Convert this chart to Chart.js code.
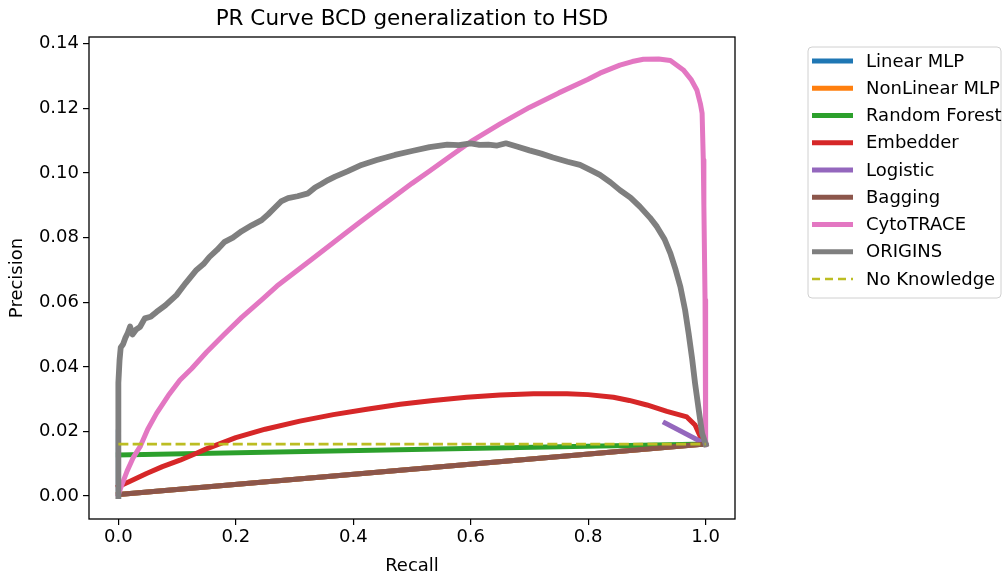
<!DOCTYPE html>
<html><head><meta charset="utf-8">
<script src="https://cdn.jsdelivr.net/npm/chart.js@4/dist/chart.umd.min.js"></script>
<style>html,body{margin:0;padding:0;background:#fff;overflow:hidden;}</style>
</head><body>
<canvas id="c" width="1004" height="577" style="display:block;width:1004px;height:577px"></canvas>
<script>
// ---------- data ----------
const chartTitle = "PR Curve BCD generalization to HSD";
const xAxisTitle = "Recall";
const yAxisTitle = "Precision";
const xTicks = [0.0, 0.2, 0.4, 0.6, 0.8, 1.0];
const yTicks = [0.00, 0.02, 0.04, 0.06, 0.08, 0.10, 0.12, 0.14];
const seriesNames = ["Linear MLP", "NonLinear MLP", "Random Forest", "Embedder", "Logistic", "Bagging", "CytoTRACE", "ORIGINS", "No Knowledge"];

const linearMlpRecall    = [0, 0, 1];
const linearMlpPrecision = [0.0198, 0.0005, 0.0161];
const nonLinearMlpRecall    = [0, 1];
const nonLinearMlpPrecision = [0.0005, 0.0161];
const randomForestRecall    = [0, 1];
const randomForestPrecision = [0.0127, 0.0161];
const embedderRecall    = [0, 0.02, 0.048, 0.075, 0.105, 0.13, 0.15, 0.2, 0.25, 0.309, 0.366, 0.423, 0.48, 0.536, 0.593, 0.65, 0.707, 0.764, 0.8, 0.843, 0.87, 0.9, 0.934, 0.968, 0.982, 0.991, 1.0];
const embedderPrecision = [0.0029, 0.0046, 0.0070, 0.0091, 0.0111, 0.0130, 0.0146, 0.0181, 0.0207, 0.0232, 0.0252, 0.0269, 0.0284, 0.0296, 0.0306, 0.0313, 0.0317, 0.0317, 0.0314, 0.0306, 0.0296, 0.0282, 0.0262, 0.0245, 0.0220, 0.0184, 0.0161];
const logisticRecall    = [0.931, 1.0];
const logisticPrecision = [0.0226, 0.0161];
const baggingRecall    = [0, 1];
const baggingPrecision = [0.0005, 0.0161];
const cytotraceRecall    = [0, 0.006, 0.015, 0.025, 0.037, 0.05, 0.065, 0.085, 0.105, 0.125, 0.15, 0.18, 0.21, 0.244, 0.27, 0.3, 0.33, 0.357, 0.385, 0.41, 0.44, 0.471, 0.5, 0.53, 0.565, 0.6, 0.65, 0.7, 0.75, 0.8, 0.82, 0.854, 0.875, 0.894, 0.92, 0.94, 0.962, 0.975, 0.985, 0.991, 0.994, 0.996, 0.997, 0.999, 1.0];
const cytotracePrecision = [0.0005, 0.0035, 0.0078, 0.0118, 0.0153, 0.0207, 0.0256, 0.0311, 0.0359, 0.0395, 0.0445, 0.0500, 0.0553, 0.0607, 0.0650, 0.0692, 0.0734, 0.0772, 0.0811, 0.0846, 0.0887, 0.0929, 0.0968, 0.1006, 0.1052, 0.1097, 0.1152, 0.1203, 0.1248, 0.1290, 0.1309, 0.1334, 0.1345, 0.1352, 0.1353, 0.1348, 0.1319, 0.1290, 0.1257, 0.1215, 0.1185, 0.1040, 0.0900, 0.0607, 0.0161];
const originsRecall    = [0, 0, 0, 0.002, 0.004, 0.008, 0.012, 0.016, 0.02, 0.024, 0.03, 0.037, 0.045, 0.055, 0.065, 0.08, 0.099, 0.115, 0.133, 0.145, 0.155, 0.168, 0.181, 0.195, 0.21, 0.227, 0.244, 0.255, 0.265, 0.277, 0.289, 0.305, 0.323, 0.335, 0.345, 0.357, 0.369, 0.39, 0.414, 0.44, 0.471, 0.5, 0.53, 0.56, 0.58, 0.6, 0.615, 0.63, 0.645, 0.66, 0.68, 0.7, 0.72, 0.74, 0.765, 0.786, 0.805, 0.82, 0.838, 0.854, 0.872, 0.888, 0.905, 0.917, 0.93, 0.94, 0.949, 0.957, 0.965, 0.971, 0.977, 0.982, 0.988, 0.994, 1.0];
const originsPrecision = [0, 0.02, 0.035, 0.042, 0.046, 0.047, 0.049, 0.0505, 0.0525, 0.0500, 0.0515, 0.0524, 0.0550, 0.0555, 0.0570, 0.0590, 0.0622, 0.0660, 0.0700, 0.0718, 0.0740, 0.0762, 0.0787, 0.0800, 0.0820, 0.0838, 0.0854, 0.0872, 0.0890, 0.0912, 0.0922, 0.0928, 0.0937, 0.0955, 0.0965, 0.0978, 0.0989, 0.1005, 0.1025, 0.1040, 0.1056, 0.1068, 0.1080, 0.1088, 0.1086, 0.1092, 0.1087, 0.1088, 0.1085, 0.1092, 0.1081, 0.1070, 0.1060, 0.1048, 0.1035, 0.1025, 0.1008, 0.0994, 0.0971, 0.0947, 0.0924, 0.0896, 0.0862, 0.0834, 0.0795, 0.0751, 0.0700, 0.0648, 0.0576, 0.0504, 0.0425, 0.0349, 0.0270, 0.0194, 0.0161];
const noKnowledgeRecall    = [0, 1];
const noKnowledgePrecision = [0.0161, 0.0161];

// ---------- styles ----------
const seriesColors = ["#1f77b4", "#ff7f0e", "#2ca02c", "#d62728", "#9467bd", "#8c564b", "#e377c2", "#7f7f7f", "#bcbd22"];
const seriesWidths = [5, 5, 5, 5, 5, 5, 5, 5.8, 2.7];
const FONT = "'DejaVu Sans', sans-serif";

const recallLists = [linearMlpRecall, nonLinearMlpRecall, randomForestRecall, embedderRecall, logisticRecall, baggingRecall, cytotraceRecall, originsRecall, noKnowledgeRecall];
const precisionLists = [linearMlpPrecision, nonLinearMlpPrecision, randomForestPrecision, embedderPrecision, logisticPrecision, baggingPrecision, cytotracePrecision, originsPrecision, noKnowledgePrecision];

const datasets = seriesNames.map((name, i) => {
  const dashed = name === "No Knowledge";
  return {
    label: name,
    data: recallLists[i].map((r, k) => ({x: r, y: precisionLists[i][k]})),
    borderColor: seriesColors[i],
    backgroundColor: seriesColors[i],
    borderWidth: seriesWidths[i],
    borderDash: dashed ? [10, 4.3] : [],
    borderJoinStyle: 'round',
    borderCapStyle: dashed ? 'butt' : 'square',
    pointRadius: 0,
    pointHoverRadius: 0,
    tension: 0,
    fill: false,
    order: seriesNames.length - 1 - i
  };
});

const decorPlugin = {
  id: 'decor',
  afterDraw(chart) {
    const ctx = chart.ctx;
    const a = chart.chartArea;
    ctx.save();
    // frame
    ctx.strokeStyle = '#000';
    ctx.lineWidth = 1.3;
    ctx.strokeRect(a.left, a.top, a.right - a.left, a.bottom - a.top);
    // title
    ctx.fillStyle = '#000';
    ctx.font = "21.5px " + FONT;
    ctx.textAlign = 'center';
    ctx.textBaseline = 'middle';
    ctx.fillText(chartTitle, (a.left + a.right) / 2, 19);
    // legend
    const bx = 808, by = 47, bw = 193, bh = 251, r = 4;
    ctx.beginPath();
    ctx.moveTo(bx + r, by);
    ctx.lineTo(bx + bw - r, by); ctx.quadraticCurveTo(bx + bw, by, bx + bw, by + r);
    ctx.lineTo(bx + bw, by + bh - r); ctx.quadraticCurveTo(bx + bw, by + bh, bx + bw - r, by + bh);
    ctx.lineTo(bx + r, by + bh); ctx.quadraticCurveTo(bx, by + bh, bx, by + bh - r);
    ctx.lineTo(bx, by + r); ctx.quadraticCurveTo(bx, by, bx + r, by);
    ctx.closePath();
    ctx.fillStyle = 'rgba(255,255,255,0.8)';
    ctx.fill();
    ctx.strokeStyle = '#d0d0d0';
    ctx.lineWidth = 1;
    ctx.stroke();
    ctx.font = "18px " + FONT;
    ctx.textAlign = 'left';
    ctx.textBaseline = 'middle';
    chart.data.datasets.forEach((ds, i) => {
      const y = 61 + i * 27.25;
      ctx.beginPath();
      ctx.strokeStyle = ds.borderColor;
      ctx.lineWidth = Math.min(ds.borderWidth, 5);
      ctx.setLineDash(ds.borderDash.length ? [8, 5] : []);
      ctx.lineCap = 'butt';
      ctx.moveTo(812, y);
      ctx.lineTo(853, y);
      ctx.stroke();
      ctx.setLineDash([]);
      ctx.fillStyle = '#000';
      ctx.fillText(ds.label, 866, y + 1);
    });
    ctx.restore();
  }
};

new Chart(document.getElementById('c'), {
  type: 'line',
  data: { datasets },
  options: {
    responsive: false,
    animation: false,
    devicePixelRatio: 1,
    layout: { padding: { left: 0, top: 37, right: 269, bottom: 0 } },
    plugins: { legend: { display: false }, tooltip: { enabled: false }, title: { display: false } },
    scales: {
      x: {
        type: 'linear',
        min: -0.05, max: 1.05,
        afterBuildTicks: s => { s.ticks = xTicks.map(v => ({value: v})); },
        afterFit: s => { s.height = 58; },
        ticks: { color: '#000', font: { family: FONT, size: 18 }, padding: 2, maxRotation: 0, autoSkip: false,
                 callback: v => Number(v).toFixed(1) },
        grid: { drawOnChartArea: false, drawTicks: true, tickLength: 6, color: '#000', lineWidth: 1.2 },
        border: { display: false },
        title: { display: true, text: xAxisTitle, color: '#000', font: { family: FONT, size: 18 }, padding: { top: 0, bottom: 0 } }
      },
      y: {
        type: 'linear',
        min: -0.0071, max: 0.1421,
        afterBuildTicks: s => { s.ticks = yTicks.map(v => ({value: v})); },
        afterFit: s => { s.width = 89; },
        ticks: { color: '#000', font: { family: FONT, size: 18 }, padding: 4, autoSkip: false,
                 callback: v => Number(v).toFixed(2) },
        grid: { drawOnChartArea: false, drawTicks: true, tickLength: 6, color: '#000', lineWidth: 1.2 },
        border: { display: false },
        title: { display: true, text: yAxisTitle, color: '#000', font: { family: FONT, size: 18 }, padding: { top: 7, bottom: 0 } }
      }
    }
  },
  plugins: [decorPlugin]
});
</script>
</body></html>
